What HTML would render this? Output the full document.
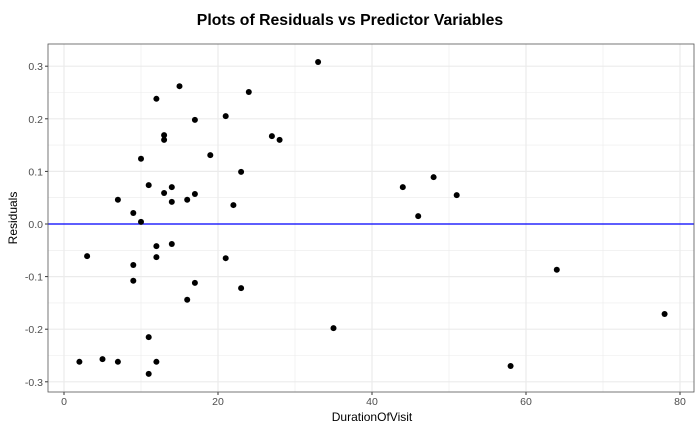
<!DOCTYPE html>
<html><head><meta charset="utf-8"><style>
body{margin:0;background:#fff}
svg{display:block;font-family:"Liberation Sans",sans-serif}
</style></head><body>
<svg id="chart" width="700" height="432">
<text x="350" y="25" text-anchor="middle" font-size="15.8" font-weight="bold">Plots of Residuals vs Predictor Variables</text>
<g id="grid"></g>
<g id="axes"></g>
<g id="pts"></g>
<text x="372" y="421" text-anchor="middle" font-size="12">DurationOfVisit</text>
<text transform="translate(17,218) rotate(-90)" text-anchor="middle" font-size="12">Residuals</text>
</svg>
<script>
const duration=[2,3,5,7,7,9,9,9,10,10,11,11,11,12,12,12,12,13,13,13,14,14,14,15,16,16,17,17,17,19,21,21,22,23,23,24,27,28,33,35,44,46,48,51,58,64,78];
const residuals=[-0.262,-0.061,-0.257,0.046,-0.262,-0.078,0.021,-0.108,0.124,0.004,0.074,-0.215,-0.285,0.238,-0.042,-0.063,-0.262,0.169,0.16,0.059,0.07,0.042,-0.038,0.262,0.046,-0.144,0.198,0.057,-0.112,0.131,0.205,-0.065,0.036,0.099,-0.122,0.251,0.167,0.16,0.308,-0.198,0.07,0.015,0.089,0.055,-0.27,-0.087,-0.171];
const xTicks=[0,20,40,60,80];
const xMinor=[10,30,50,70];
const yTicks=[-0.3,-0.2,-0.1,0,0.1,0.2,0.3];
const yMinor=[-0.25,-0.15,-0.05,0.05,0.15,0.25];
const L=48,R=694,T=44,B=392;
const sx=v=>64+7.7*v, sy=v=>224-526*v;
const NS="http://www.w3.org/2000/svg";
function mk(p,tag,a){const e=document.createElementNS(NS,tag);for(const k in a)e.setAttribute(k,a[k]);p.appendChild(e);return e;}
const g=document.getElementById('grid'),ax=document.getElementById('axes'),pts=document.getElementById('pts');
mk(g,'rect',{x:L,y:T,width:R-L,height:B-T,fill:'#fff'});
xMinor.forEach(v=>{const l=mk(g,'line',{x1:sx(v),x2:sx(v),y1:T,y2:B,stroke:'#ebebeb','stroke-width':0.6});

});
yMinor.forEach(v=>{const l=mk(g,'line',{x1:L,x2:R,y1:sy(v),y2:sy(v),stroke:'#ebebeb','stroke-width':0.6});

});
xTicks.forEach(v=>{const l=mk(g,'line',{x1:sx(v),x2:sx(v),y1:T,y2:B,stroke:'#ebebeb','stroke-width':1.2});


const t=mk(ax,'line',{x1:sx(v),x2:sx(v),y1:B,y2:B+3,stroke:'#333'});


const tx=mk(ax,'text',{x:sx(v),y:B+13,'text-anchor':'middle','font-size':10.5,fill:'#4d4d4d'});tx.textContent=v;

});
yTicks.forEach(v=>{const l=mk(g,'line',{x1:L,x2:R,y1:sy(v),y2:sy(v),stroke:'#ebebeb','stroke-width':1.2});


const t=mk(ax,'line',{x1:L-3,x2:L,y1:sy(v),y2:sy(v),stroke:'#333'});


const tx=mk(ax,'text',{x:L-5,y:sy(v)+4,'text-anchor':'end','font-size':10.5,fill:'#4d4d4d'});tx.textContent=v.toFixed(1);

});
const zl=mk(g,'line',{x1:L,x2:R,y1:sy(0),y2:sy(0),stroke:'#0000ff','stroke-width':1.3});


const br=mk(ax,'rect',{x:L,y:T,width:R-L,height:B-T,fill:'none',stroke:'#555','stroke-width':0.8});


duration.forEach((d,i)=>{const c=mk(pts,'circle',{cx:sx(d),cy:sy(residuals[i]),r:3,fill:'#000'});

});
</script>
</body></html>
